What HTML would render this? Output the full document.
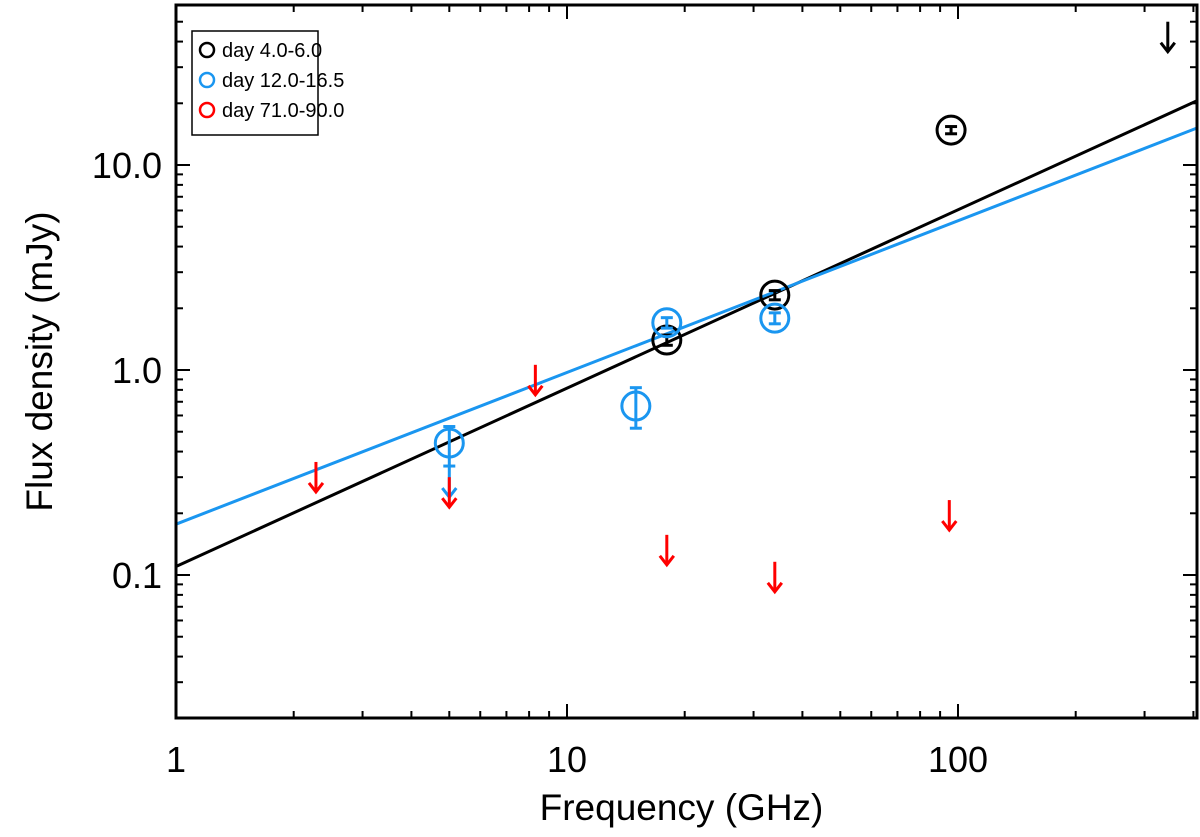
<!DOCTYPE html>
<html><head><meta charset="utf-8"><style>
body{margin:0;background:#fff}
svg{display:block;font-family:"Liberation Sans",sans-serif}
</style></head><body>
<svg id="chart" width="1200" height="837" viewBox="0 0 1200 837"></svg>
<script>
const blackFreq=[18,34,96];
const blackFlux=[1.4,2.32,14.8];
const blackErr=[0.08,0.12,0.6];
const blackLimFreq=[344];
const blackLimFlux=[50];
const blueFreq=[5.0,15,18,34];
const blueFlux=[0.44,0.667,1.7,1.79];
const blueErrLo=[0.34,0.52,1.6,1.68];
const blueErrHi=[0.53,0.82,1.8,1.9];
const blueLimFreq=[5.0];
const blueLimFlux=[0.336];
const redLimFreq=[2.28,5.0,8.3,18,34,95];
const redLimFlux=[0.356,0.30,1.06,0.157,0.116,0.232];
const fitBlack=[0.11,0.87];
const fitBlue=[0.177,0.74];
const xTicks=[1,10,100];
const xTickLabels=["1","10","100"];
const yTicks=[0.1,1,10];
const yTickLabels=["0.1","1.0","10.0"];
const legendLabels=["day 4.0-6.0","day 12.0-16.5","day 71.0-90.0"];
const legendColors=["#000","#1a96f0","#f00"];

const L=176,R=1197,T=5,B=718;
const xmin=1,xmax=Math.pow(10,(R-L)/391),ymin=Math.pow(10,-1-(B-575)/205),ymax=Math.pow(10,1+(165-T)/205);
const X=v=>L+(Math.log10(v)-Math.log10(xmin))/(Math.log10(xmax)-Math.log10(xmin))*(R-L);
const Y=v=>B-(Math.log10(v)-Math.log10(ymin))/(Math.log10(ymax)-Math.log10(ymin))*(B-T);
const svg=document.getElementById('chart');
const NS="http://www.w3.org/2000/svg";
function mk(tag,attrs,parent){const e=document.createElementNS(NS,tag);for(const k in attrs)e.setAttribute(k,attrs[k]);(parent||svg).appendChild(e);return e;}

const fits=[[fitBlack,"#000","fit-line-black"],[fitBlue,"#1a96f0","fit-line-blue"]];
fits.forEach(f=>{
 const a=f[0][0],s=f[0][1];
 const ln=mk('line',{x1:X(xmin),y1:Y(a),x2:X(xmax),y2:Y(a*Math.pow(xmax,s)),stroke:f[1],'stroke-width':3});
 
 
});

function circ(fx,fy,col,name){
 const c=mk('circle',{cx:X(fx),cy:Y(fy),r:14,fill:'none',stroke:col,'stroke-width':3});
 
 
}
function err(fx,lo,hi,col){
 const g=mk('g',{stroke:col,'stroke-width':3});
 
 
 const x=X(fx);
 mk('line',{x1:x,y1:Y(lo),x2:x,y2:Y(hi)},g);
 mk('line',{x1:x-6,y1:Y(lo),x2:x+6,y2:Y(lo)},g);
 mk('line',{x1:x-6,y1:Y(hi),x2:x+6,y2:Y(hi)},g);
}
function arrow(fx,fy,col,name){
 const g=mk('g',{stroke:col,'stroke-width':3,fill:'none'});
 
 
 const x=X(fx),y=Y(fy);
 mk('line',{x1:x,y1:y,x2:x,y2:y+30},g);
 mk('polyline',{points:`${x-7},${y+21} ${x},${y+30} ${x+7},${y+21}`},g);
}
blackFreq.forEach((f,i)=>{err(f,blackFlux[i]-blackErr[i],blackFlux[i]+blackErr[i],'#000');circ(f,blackFlux[i],'#000','black-point');});
blackLimFreq.forEach((f,i)=>arrow(f,blackLimFlux[i],'#000','black-upper-limit'));
blueFreq.forEach((f,i)=>{err(f,blueErrLo[i],blueErrHi[i],'#1a96f0');circ(f,blueFlux[i],'#1a96f0','blue-point');});
blueLimFreq.forEach((f,i)=>arrow(f,blueLimFlux[i],'#1a96f0','blue-upper-limit'));
redLimFreq.forEach((f,i)=>arrow(f,redLimFlux[i],'#f00','red-upper-limit'));

const fr=mk('rect',{x:L,y:T,width:R-L,height:B-T,fill:'none',stroke:'#000','stroke-width':3});


const tg=mk('g',{stroke:'#000','stroke-width':2});


for(let d=1;d<=1000;d*=10)for(let m=1;m<10;m++){const v=d*m;if(v<xmin||v>xmax)continue;const x=X(v),len=m==1?14:7;
 mk('line',{x1:x,y1:B,x2:x,y2:B-len},tg);mk('line',{x1:x,y1:T,x2:x,y2:T+len},tg);}
for(let d=0.01;d<=100;d*=10)for(let m=1;m<10;m++){const v=d*m;if(v<ymin||v>ymax)continue;const y=Y(v),len=(m==1)?14:7;
 mk('line',{x1:L,y1:y,x2:L+len,y2:y},tg);mk('line',{x1:R,y1:y,x2:R-len,y2:y},tg);}
xTicks.forEach((v,i)=>{const t=mk('text',{x:X(v),y:772,'text-anchor':'middle','font-size':36});t.textContent=xTickLabels[i];
 });
yTicks.forEach((v,i)=>{const t=mk('text',{x:L-14,y:Y(v)+13,'text-anchor':'end','font-size':36});t.textContent=yTickLabels[i];
 });
const xt=mk('text',{x:(L+R)/2-5,y:820,'text-anchor':'middle','font-size':37});xt.textContent="Frequency (GHz)";

const yt=mk('text',{x:52,y:(T+B)/2,'text-anchor':'middle','font-size':37,transform:`rotate(-90 52 ${(T+B)/2})`});yt.textContent="Flux density (mJy)";


const lg=mk('g',{});


mk('rect',{x:192,y:31,width:126,height:104,fill:'#fff',stroke:'#000','stroke-width':1.5},lg);
legendLabels.forEach((lab,i)=>{
 const e=mk('g',{},lg);
 
 
 const y=50+i*30;
 mk('circle',{cx:207,cy:y,r:7,fill:'none',stroke:legendColors[i],'stroke-width':2.5},e);
 const t=mk('text',{x:222,y:y+7,'font-size':20},e);t.textContent=lab;
});
</script>
</body></html>
